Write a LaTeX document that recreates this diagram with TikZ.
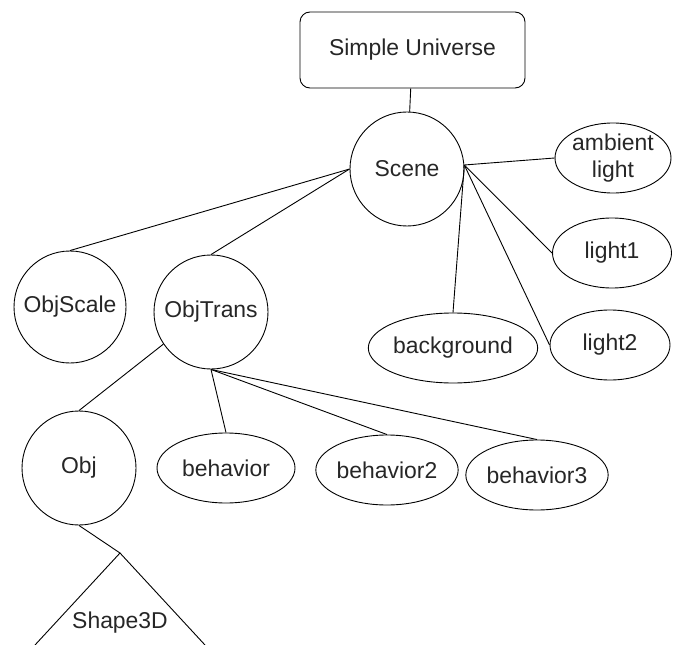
\documentclass[tikz,border=0pt]{standalone}
\usepackage{fontspec}
\setmainfont{Liberation Sans}
\usetikzlibrary{shapes.geometric}
\tikzset{
    ball/.style={draw,circle,minimum size=114bp,inner sep=0pt},
    oval/.style={draw,ellipse,minimum height=70bp,inner sep=0pt},
    root/.style={draw,rounded corners=10bp,minimum width=225bp,minimum height=76bp}
}

\begin{document}
\begin{tikzpicture}[x=1bp,y=-1bp,line width=0.9bp,
    every node/.style={font=\fontsize{23}{27}\selectfont,text=black!85}]
    \useasboundingbox (0,0) rectangle (681,645);
    % top of the tree
    \node[root] (universe) at (412.5,50) {Simple Universe};
    \node[ball] (scene) at (407,169) {Scene};
    \draw (universe) -- (scene);
    % lights and background
    \node[oval,minimum width=116bp,align=center] (ambient) at (613,158) {ambient\\light};
    \node[oval,minimum width=119bp] (light1) at (612,253) {light1};
    \node[oval,minimum width=120bp] (light2) at (610,345) {light2};
    \node[oval,minimum width=139bp] (background) at (453,348) {background};
    \foreach \nn in {ambient,light1,light2} {
      \draw (scene.4) -- (\nn.west);
    }
    \draw (scene.4) -- (background.north);
    % transform groups
    \node[ball,minimum size=112bp] (objscale) at (70,307) {ObjScale};
    \node[ball] (objtrans) at (211,312) {ObjTrans};
    \draw (scene.west) -- (objscale.north);
    \draw (scene.west) -- (objtrans.north);
    % object and behaviors
    \node[ball] (obj) at (79,468) {Obj};
    \node[oval,minimum width=138bp] (behavior1) at (226,468) {behavior};
    \node[oval,minimum width=137bp] (behavior2) at (387,470) {behavior2};
    \node[oval,minimum width=135bp] (behavior3) at (537,475) {behavior3};
    \draw (objtrans.214) -- (obj.north);
    \foreach \nn in {behavior1,behavior2,behavior3} {
      \draw (objtrans.south) -- (\nn.north);
    }
    % shape triangle, cut by the page edge
    \coordinate (apex) at (120,553);
    \draw (obj.south) -- (apex);
    \draw (35,645) -- (apex) -- (205,645);
    \node (shape) at (120,623) {Shape3D};
\end{tikzpicture}
\end{document}
